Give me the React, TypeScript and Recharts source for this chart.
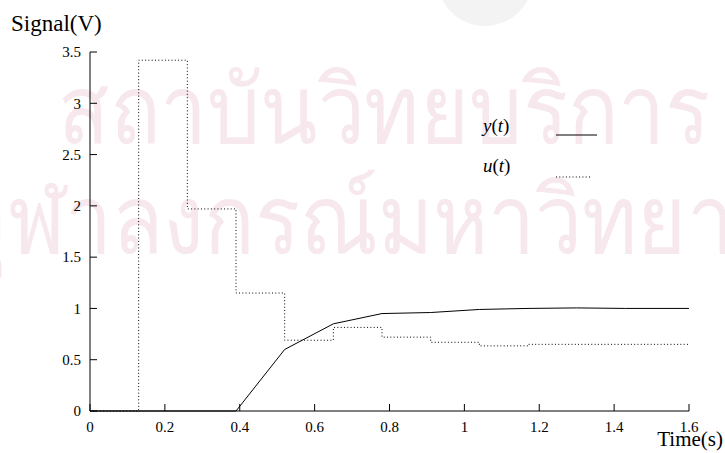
import React from 'react';
import { LineChart, Line, XAxis, YAxis, Legend } from 'recharts';

// ---- data ----
const uTime = [0, 0.13, 0.26, 0.39, 0.52, 0.65, 0.78, 0.91, 1.04, 1.17, 1.3, 1.43, 1.6];
const uSignal = [0, 3.42, 1.97, 1.15, 0.69, 0.815, 0.72, 0.67, 0.635, 0.65, 0.65, 0.65, 0.65];
const yTime = [0, 0.39, 0.52, 0.65, 0.78, 0.91, 1.04, 1.17, 1.3, 1.43, 1.6];
const ySignal = [0, 0, 0.6, 0.85, 0.95, 0.96, 0.99, 1.0, 1.005, 1.0, 1.0];
const xTicks = [0, 0.2, 0.4, 0.6, 0.8, 1, 1.2, 1.4, 1.6];
const yTicks = [0, 0.5, 1, 1.5, 2, 2.5, 3, 3.5];
const xTitle = 'Time(s)';
const yTitle = 'Signal(V)';
const watermark = ['สถาบันวิทยบริการ', 'จุฬาลงกรณ์มหาวิทยาลัย'];

const uData = uTime.map((t, i) => ({ t, v: uSignal[i] }));
const yData = yTime.map((t, i) => ({ t, v: ySignal[i] }));

const TL = 7;
const FF = 'Liberation Serif';
const serif = { fontFamily: FF };

const BottomTick = (p: any) => (
  <g>
    <line x1={p.x} x2={p.x} y1={p.y} y2={p.y - TL} stroke="#000" />
    <text x={p.x} y={p.y + 21} textAnchor="middle" style={serif} fontFamily={FF} fontSize={15} fill="#000">
      {String(p.payload.value)}
    </text>
  </g>
);
const TopTick = (p: any) => (
  <line x1={p.x} x2={p.x} y1={p.y} y2={p.y + TL} stroke="#000" />
);
const LeftTick = (p: any) => (
  <g>
    <line x1={p.x} x2={p.x + TL} y1={p.y} y2={p.y} stroke="#000" />
    <text x={p.x - 9} y={p.y} dy="0.35em" textAnchor="end" style={serif} fontFamily={FF} fontSize={15} fill="#000">
      {String(p.payload.value)}
    </text>
  </g>
);
const RightTick = (p: any) => (
  <line x1={p.x} x2={p.x - TL} y1={p.y} y2={p.y} stroke="#000" />
);

const LegendBox = () => (
  <svg width={160} height={100} style={{ display: 'block' }}>
    <text x={23} y={32} style={serif} fontFamily={FF} fontSize={19} fill="#000">
      <tspan fontStyle="italic">y</tspan>(<tspan fontStyle="italic">t</tspan>)
    </text>
    <line x1={96} x2={137} y1={35} y2={35} stroke="#000" strokeWidth={1} />
    <text x={23} y={72} style={serif} fontFamily={FF} fontSize={19} fill="#000">
      <tspan fontStyle="italic">u</tspan>(<tspan fontStyle="italic">t</tspan>)
    </text>
    <line x1={96} x2={132} y1={77} y2={77} stroke="#000" strokeWidth={1} strokeDasharray="1 2.3" />
  </svg>
);

const W1 = 143;
const W2 = 253;

export default function App() {
  return (
    <div style={{ position: 'absolute', left: 0, top: 0, width: 725, height: 453, background: '#fff', fontFamily: FF }}>
      <svg width={725} height={453} style={{ position: 'absolute', left: 0, top: 0 }}>
        <circle cx={485} cy={-22} r={48} fill="#f3f3f3" />
        <g transform={`translate(0,${W1}) scale(1,1.13) translate(0,${-W1})`}>
          <text x={58} y={W1} fontSize={84} fill="#f7e8ee" style={serif}>{watermark[0]}</text>
        </g>
        <g transform={`translate(0,${W2}) scale(1,1.13) translate(0,${-W2})`}>
          <text x={-42} y={W2} fontSize={84} fill="#f7e8ee" style={serif}>{watermark[1]}</text>
        </g>
      </svg>
      <div style={{ position: 'absolute', left: 0, top: 0 }}>
        <LineChart width={725} height={453} margin={{ top: 52, right: 36, bottom: 0, left: 0 }}>
          <XAxis
            dataKey="t"
            type="number"
            domain={[0, 1.6]}
            ticks={xTicks}
            interval={0}
            height={42}
            tickSize={0}
            tickMargin={0}
            tickLine={false}
            tick={BottomTick}
            axisLine={{ stroke: '#000' }}
            allowDuplicatedCategory={false}
            label={(props: any) => {
              const vb = props.viewBox;
              return (
                <text x={vb.x + vb.width + 34} y={446} textAnchor="end" style={serif} fontFamily={FF} fontSize={21} fill="#000">
                  {xTitle}
                </text>
              );
            }}
          />
          <XAxis
            xAxisId="top"
            orientation="top"
            type="number"
            domain={[0, 1.6]}
            ticks={xTicks}
            interval={0}
            height={0}
            tickSize={0}
            tickMargin={0}
            tickLine={false}
            tick={TopTick}
            axisLine={{ stroke: '#000' }}
          />
          <YAxis
            type="number"
            domain={[0, 3.5]}
            ticks={yTicks}
            interval={0}
            width={90}
            tickSize={0}
            tickMargin={0}
            tickLine={false}
            tick={LeftTick}
            axisLine={{ stroke: '#000' }}
            label={() => (
              <text x={11} y={31} style={serif} fontFamily={FF} fontSize={23} fill="#000">
                {yTitle}
              </text>
            )}
          />
          <YAxis
            yAxisId="right"
            orientation="right"
            type="number"
            domain={[0, 3.5]}
            ticks={yTicks}
            interval={0}
            width={0}
            tickSize={0}
            tickMargin={0}
            tickLine={false}
            tick={RightTick}
            axisLine={{ stroke: '#000' }}
          />
          <Line
            data={uData}
            dataKey="v"
            type="stepAfter"
            stroke="#000"
            strokeWidth={1}
            strokeDasharray="1 2.3"
            dot={false}
            activeDot={false}
            isAnimationActive={false}
          />
          <Line
            data={yData}
            dataKey="v"
            type="linear"
            stroke="#000"
            strokeWidth={1}
            dot={false}
            activeDot={false}
            isAnimationActive={false}
          />
          <Legend
            layout="vertical"
            align="center"
            verticalAlign="middle"
            content={() => <LegendBox />}
            wrapperStyle={{ position: 'absolute', left: 460, top: 100, width: 160, height: 100 }}
          />
        </LineChart>
      </div>
    </div>
  );
}
